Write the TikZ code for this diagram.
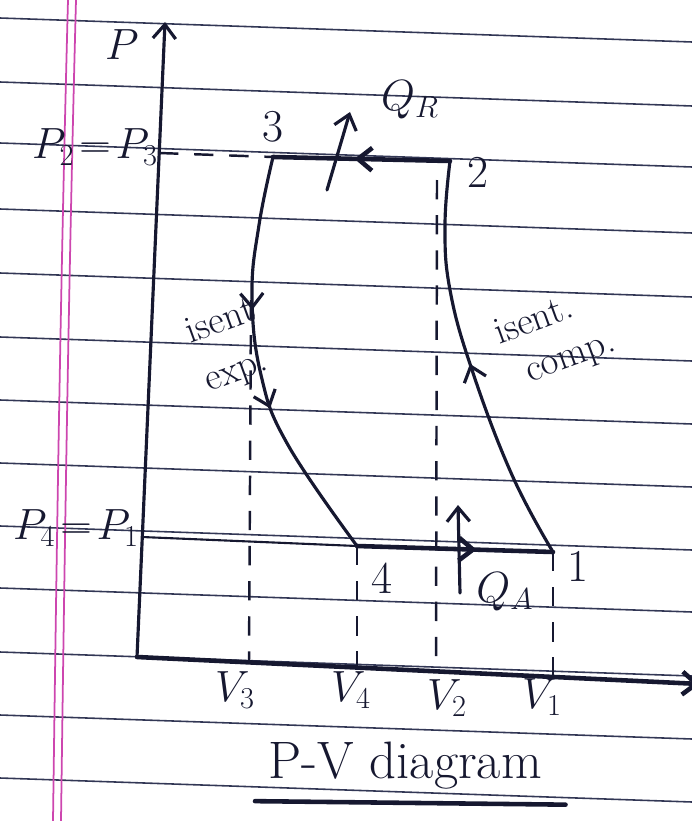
\documentclass[tikz,border=0pt]{standalone}
\usetikzlibrary{arrows.meta,decorations.markings}

\definecolor{ink}{RGB}{22,24,48}
\definecolor{ruled}{RGB}{50,55,85}
\definecolor{margin}{RGB}{205,70,175}

\tikzset{
  >={Straight Barb[length=8pt,width=13pt]},
  pen/.style={ink, line width=1.8pt, line cap=round, line join=round},
  thickpen/.style={ink, line width=2.6pt, line cap=round},
  guide/.style={ink, line width=1.4pt, dash pattern=on 11pt off 9pt},
  lbl/.style={ink, font=\fontsize{26}{30}\selectfont},
  note/.style={ink, font=\fontsize{22}{26}\selectfont, rotate=20, inner sep=1pt},
}

\begin{document}
\begin{tikzpicture}[x=0.02cm, y=-0.02cm]
    \useasboundingbox (0,0) rectangle (692,821);

    % Giay ke dong va le hong
    \foreach \y in {18,82,143,209,273,337,400,463,526,588,652,715,778}
        \draw[ruled, line width=0.9pt] (0,\y) -- (692,\y+24);
    \draw[margin, line width=1pt] (68,0) .. controls (60,300) and (56,600) .. (53,821);
    \draw[margin, line width=1pt] (76,0) .. controls (68,300) and (64,600) .. (61,821);

    % Cac diem cua chu trinh
    \coordinate (o) at (137,657);
    \coordinate (ptop) at (165,22);
    \coordinate (vend) at (700,684);
    \coordinate (p3) at (273,157);
    \coordinate (p2) at (450,161);
    \coordinate (p4) at (357,546);
    \coordinate (p1) at (553,552);
    \coordinate (pa) at (159,153);
    \coordinate (pb) at (142,537);

    % Truc toa do
    \draw[pen, ->] (o) -- (ptop);
    \draw[thickpen, ->] (o) -- (vend);

    % Duong dang ap
    \draw[guide] (pa) -- (p3);
    \draw[ink, line width=1.2pt] (pb) -- (p4);
    \draw[thickpen, postaction={decorate},
          decoration={markings, mark=at position 0.54 with {\arrow{>}}}] (p2) -- (p3);
    \draw[thickpen, postaction={decorate},
          decoration={markings, mark=at position 0.61 with {\arrow{>}}}] (p4) -- (p1);

    % Gian no dang entropy 3 -> 4
    \draw[pen, postaction={decorate},
          decoration={markings, mark=at position 0.37 with {\arrow{>}},
                      mark=at position 0.61 with {\arrow{>}}}]
        plot[smooth, tension=0.7] coordinates {(p3) (259,225) (252,295) (261,375) (288,445) (p4)};

    % Nen dang entropy 1 -> 2
    \draw[pen, postaction={decorate},
          decoration={markings, mark=at position 0.5 with {\arrow{>}}}]
        plot[smooth, tension=0.7] coordinates {(p1) (512,475) (472,370) (450,290) (445,225) (p2)};

    % Duong giong the tich
    \coordinate (v3t) at (251,300);
    \coordinate (v3f) at (249,662);
    \coordinate (v4f) at (357,668);
    \coordinate (v2t) at (437,180);
    \coordinate (v2f) at (436,672);
    \coordinate (v1f) at (553,677);
    \draw[guide] (v3t) -- (v3f);
    \draw[guide] (p4) -- (v4f);
    \draw[guide] (v2t) -- (v2f);
    \draw[guide] (p1) -- (v1f);

    % Nhiet thai ra va nhan vao
    \coordinate (qrtail) at (327,190);
    \coordinate (qrhead) at (350,112);
    \draw[pen, ->] (qrtail) -- (qrhead);
    \node[lbl] (qr) at (410,100) {$Q_R$};
    \coordinate (qatail) at (460,593);
    \coordinate (qahead) at (458,505);
    \draw[pen, ->] (qatail) -- (qahead);
    \node[lbl] (qa) at (505,592) {$Q_A$};

    % Nhan
    \node[lbl] (lp) at (122,45) {$P$};
    \node[lbl] (lp23) at (95,147) {$P_2\!=\!P_3$};
    \node[lbl] (lp41) at (76,528) {$P_4\!=\!P_1$};
    \node[lbl] (n3) at (273,127) {3};
    \node[lbl] (n2) at (478,172) {2};
    \node[lbl] (n4) at (382,578) {4};
    \node[lbl] (n1) at (578,566) {1};
    \node[lbl] (lv3) at (235,690) {$V_3$};
    \node[lbl] (lv4) at (351,690) {$V_4$};
    \node[lbl] (lv2) at (447,698) {$V_2$};
    \node[lbl] (lv1) at (542,697) {$V_1$};
    \node[note] (lexp1) at (220,320) {isent};
    \node[note] (lexp2) at (238,376) {exp.};
    \node[note] (lcomp1) at (533,319) {isent.};
    \node[note] (lcomp2) at (572,362) {comp.};

    % Tieu de
    \node[lbl, font=\fontsize{30}{34}\selectfont] (title) at (405,766) {P-V diagram};
    \draw[thickpen] ([xshift=-4pt,yshift=-3pt]title.south west) -- ([xshift=10pt,yshift=-5pt]title.south east);
\end{tikzpicture}
\end{document}
